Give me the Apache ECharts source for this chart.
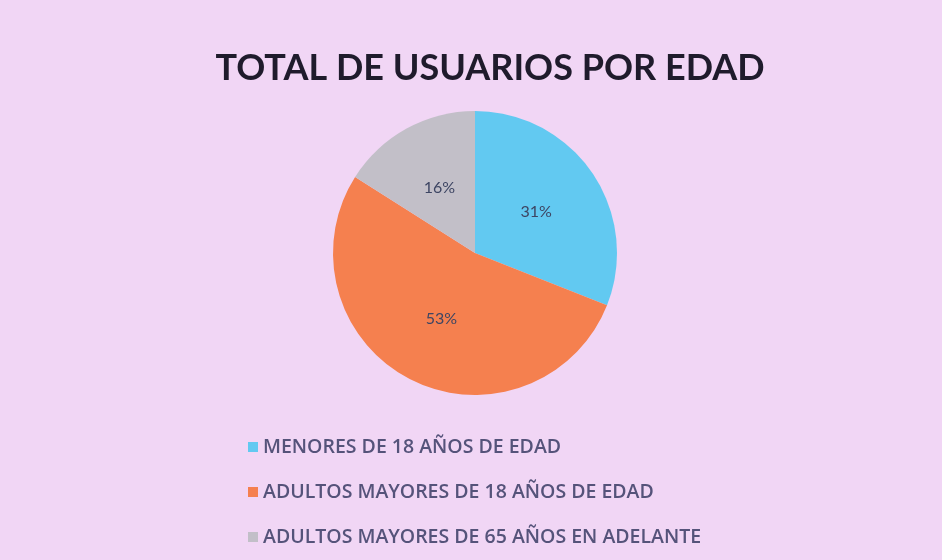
<!DOCTYPE html>
<html lang="es">
<head>
    <meta charset="UTF-8">
    <title>Total de usuarios por edad</title>
    <script src="https://cdn.jsdelivr.net/npm/echarts@6/dist/echarts.min.js"></script>
    <style>
        html, body { margin: 0; padding: 0; background: #fbf3fc; }
        #pie { width: 942px; height: 560px; }
    </style>
</head>
<body>
    <div id="pie"></div>
    <script>
        // datos
        var categorias = [
            'MENORES DE 18 AÑOS DE EDAD',
            'ADULTOS MAYORES DE 18 AÑOS DE EDAD',
            'ADULTOS MAYORES DE 65 AÑOS EN ADELANTE'
        ];
        var porcentajes = [31, 53, 16];
        var colores = ['#62c9f1', '#f5804f', '#c2bfc8'];

        var myChart = echarts.init(document.getElementById('pie'));

        var datos = categorias.map(function (c, i) {
            return { name: c, value: porcentajes[i], itemStyle: { color: colores[i] } };
        });

        var option = {
            backgroundColor: '#f1d6f5',
            title: {
                text: 'TOTAL DE USUARIOS POR EDAD',
                left: 485,
                textAlign: 'center',
                top: 45,
                textStyle: {
                    fontFamily: 'Lato',
                    fontWeight: 'bold',
                    fontSize: 36,
                    color: '#1f1b2c'
                }
            },
            legend: {
                orient: 'vertical',
                left: 243,
                top: 432,
                itemWidth: 10,
                itemHeight: 10,
                itemGap: 25,
                icon: 'rect',
                textStyle: {
                    fontFamily: 'Open Sans',
                    fontWeight: 600,
                    fontSize: 19.5,
                    lineHeight: 20,
                    color: '#55537a'
                },
                data: categorias
            },
            series: [
                {
                    type: 'pie',
                    center: [475, 253],
                    radius: 142,
                    startAngle: 90,
                    clockwise: true,
                    label: {
                        show: true,
                        position: 'inside',
                        formatter: '{c}%',
                        fontFamily: 'Lato',
                        fontSize: 16,
                        color: '#3d4563'
                    },
                    labelLine: { show: false },
                    emphasis: { disabled: true },
                    data: datos
                }
            ]
        };

        myChart.setOption(option);
    </script>
</body>
</html>
